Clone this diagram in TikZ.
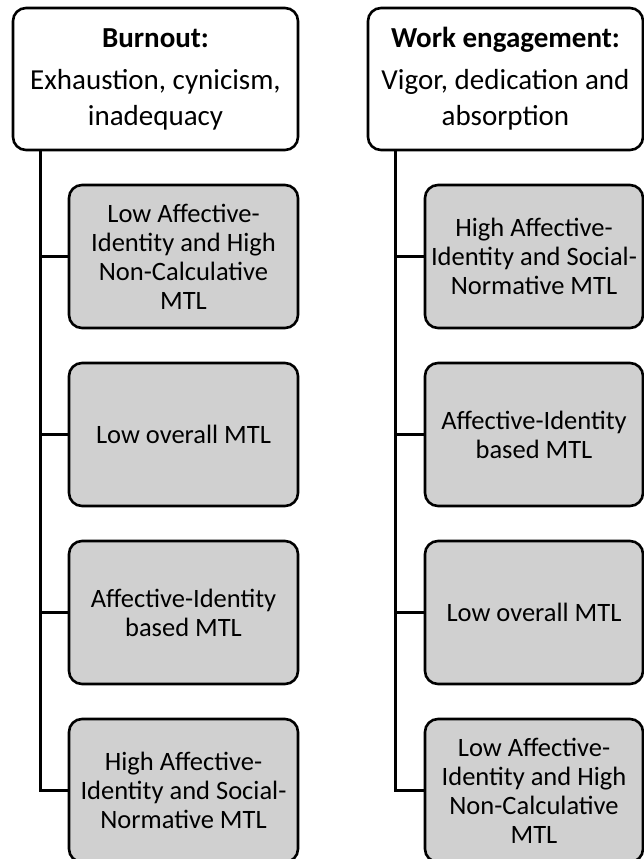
\documentclass[tikz,border=0pt]{standalone}
\usepackage{fontspec}
\setmainfont{Carlito}
\usepackage{tikz}
\usetikzlibrary{positioning}
\definecolor{boxgray}{RGB}{208,208,208}
\tikzstyle{header} = [rectangle, rounded corners=6.5pt, minimum width=142.5pt, minimum height=71pt, align=center, draw=black, line width=1.3pt, fill=white, inner sep=2pt, font=\fontsize{14.5}{18}\selectfont]
\tikzstyle{mtl} = [rectangle, rounded corners=6.5pt, minimum width=114.5pt, minimum height=71.5pt, align=center, draw=black, line width=1.3pt, fill=boxgray, inner sep=2pt, font=\fontsize{13.25}{14.5}\selectfont]
\tikzstyle{trunk} = [line width=1.3pt]
\tikzstyle{branch} = [line width=1.1pt]

\begin{document}
\begin{tikzpicture}[x=0.5pt, y=0.5pt, node distance=89pt]
	\useasboundingbox (0,0) rectangle (644,-859);

	% burnout column
	\node (burnout) [header] at (155.5,-79) {\textbf{Burnout:}\\[3pt] Exhaustion, cynicism,\\ inadequacy};
	\node (burn1) [mtl] at (183.5,-256.5) {Low Affective-\\ Identity and High\\ Non-Calculative\\ MTL};
	\node (burn2) [mtl, below of=burn1] {Low overall MTL};
	\node (burn3) [mtl, below of=burn2] {Affective-Identity\\ based MTL};
	\node (burn4) [mtl, below of=burn3] {High Affective-\\ Identity and Social-\\ Normative MTL};

	% engagement column
	\node (engage) [header, minimum width=137.5pt] at (505.5,-79) {\textbf{Work engagement:}\\[3pt] Vigor, dedication and\\ absorption};
	\node (eng1) [mtl, minimum width=109pt] at (534,-256.5) {High Affective-\\ Identity and Social-\\ Normative MTL};
	\node (eng2) [mtl, minimum width=109pt, below of=eng1] {Affective-Identity\\ based MTL};
	\node (eng3) [mtl, minimum width=109pt, below of=eng2] {Low overall MTL};
	\node (eng4) [mtl, minimum width=109pt, below of=eng3] {Low Affective-\\ Identity and High\\ Non-Calculative\\ MTL};

	\coordinate (lroot) at ([xshift=14.5pt]burnout.south west);
	\coordinate (rroot) at ([xshift=14.5pt]engage.south west);

	\draw [trunk] (lroot) |- (burn4.west);
	\draw [branch] (lroot |- burn1.west) -- (burn1.west);
	\draw [branch] (lroot |- burn2.west) -- (burn2.west);
	\draw [branch] (lroot |- burn3.west) -- (burn3.west);

	\draw [trunk] (rroot) |- (eng4.west);
	\draw [branch] (rroot |- eng1.west) -- (eng1.west);
	\draw [branch] (rroot |- eng2.west) -- (eng2.west);
	\draw [branch] (rroot |- eng3.west) -- (eng3.west);

\end{tikzpicture}
\end{document}
